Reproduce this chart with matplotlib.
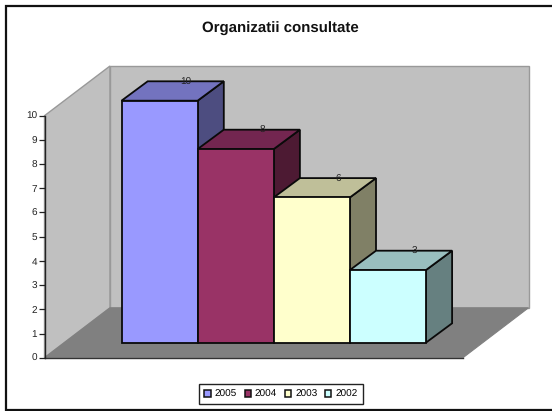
import matplotlib
matplotlib.use("Agg")
import matplotlib.pyplot as plt
from matplotlib.patches import Polygon, Rectangle, Patch

plt.rcParams['font.family'] = ['Liberation Sans', 'DejaVu Sans']
plt.rcParams['text.hinting'] = 'none'
plt.rcParams['text.hinting_factor'] = 1

title = "Organizatii consultate"
series = ["2005", "2004", "2003", "2002"]
values = [10, 8, 6, 3]
front = ["#9999FF", "#993366", "#FFFFCC", "#CCFFFF"]
top = ["#7373BF", "#732650", "#BFBF99", "#99BFBF"]
side = ["#4D4D80", "#4D1A33", "#808066", "#668080"]
yticks = list(range(0, 11))

W, H = 552, 411
fig = plt.figure(figsize=(W / 100, H / 100), dpi=100, facecolor="white")

# pixel-space layer for chart frame and 3D walls
bg = fig.add_axes([0, 0, 1, 1], zorder=0)
bg.set_xlim(0, W)
bg.set_ylim(H, 0)
bg.axis("off")
bg.add_patch(Rectangle((6, 6), W, 403.5, fc="white", ec="#111111", lw=1.6, clip_on=False))
bg.add_patch(Polygon([(44.5, 115.7), (110, 66), (110, 307.8), (44.5, 357.7)], fc="#C0C0C0", ec="#999999", lw=1))
bg.add_patch(Polygon([(110, 66), (528.5, 66), (528.5, 307.8), (110, 307.8)], fc="#C0C0C0", ec="#999999", lw=1))
bg.add_patch(Polygon([(44.5, 357.7), (110, 307.8), (528.5, 307.8), (463, 357.7)], fc="#808080", ec="#808080", lw=0.8))
bg.plot([44.5, 463], [357.7, 357.7], color="#333333", lw=1)
bg.text(280.7, 28.8, title, ha="center", va="center", fontsize=10.8, fontweight="bold", color="#111111")

# value axis
yax = fig.add_axes([44.5 / W, 1 - 357.7 / H, 0.001, 242 / H], zorder=1)
yax.patch.set_visible(False)
yax.set_ylim(0, 10)
yax.set_xticks([])
yax.set_yticks(yticks)
yax.tick_params(axis="y", length=4, width=0.9, labelsize=6.9, pad=1.5, color="#222222", labelcolor="#222222")
for lab in yax.get_yticklabels():
    lab.set_va("center_baseline")
for s in ["top", "right", "bottom"]:
    yax.spines[s].set_visible(False)
yax.spines["left"].set_linewidth(1)
yax.spines["left"].set_color("#222222")

# bar axes: front plane of the columns
bw = 76.1
ax = fig.add_axes([121.5 / W, 1 - 342.7 / H, 4 * bw / W, 242 / H], zorder=2)
ax.patch.set_visible(False)
ax.axis("off")
ax.set_xlim(0, 4)
ax.set_ylim(0, 10)
dx = 26.2 / bw
dy = 19.4 / 24.2
lw = 1.3
for i, v in enumerate(values):
    z = 3 + i
    ax.add_patch(Polygon([(i + 1, 0), (i + 1 + dx, dy), (i + 1 + dx, v + dy), (i + 1, v)],
                         fc=side[i], ec="#0A0A0A", lw=lw, zorder=z, clip_on=False))
    ax.add_patch(Polygon([(i, v), (i + dx, v + dy), (i + 1 + dx, v + dy), (i + 1, v)],
                         fc=top[i], ec="#0A0A0A", lw=lw, zorder=z, clip_on=False))
    ax.bar(i, v, width=1, align="edge", color=front[i], edgecolor="#0A0A0A", lw=lw, zorder=z, clip_on=False)
for i, v in enumerate(values):
    ax.text(i + 0.5 + dx, v + dy, str(v), ha="center", va="center_baseline", fontsize=6.9, color="#222222", zorder=20, clip_on=False)

# legend
handles = [Patch(fc=c, ec="#111111", lw=1.1, label=s) for c, s in zip(front, series)]
leg = fig.legend(handles=handles, ncols=4, loc="center", bbox_to_anchor=(281 / W, 1 - 394.3 / H),
                 fontsize=7.1, frameon=True, fancybox=False, edgecolor="#222222", framealpha=1,
                 handlelength=0.63, handleheight=0.63, handletextpad=0.4, columnspacing=0.8,
                 borderpad=0.55, borderaxespad=0)
leg.get_frame().set_linewidth(1.0)

fig.savefig("out.png", dpi=100, facecolor="white")
